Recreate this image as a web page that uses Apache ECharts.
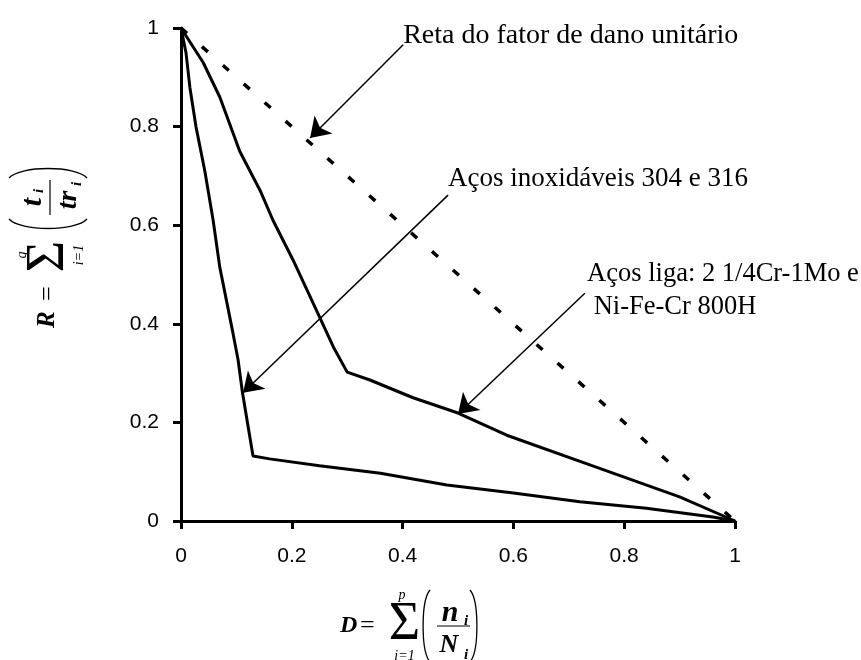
<!DOCTYPE html>
<html>
<head>
<meta charset="utf-8">
<script src="https://cdn.jsdelivr.net/npm/echarts@6/dist/echarts.min.js"></script>
<style>html,body{margin:0;padding:0;background:#fff}#c{width:861px;height:660px}</style>
</head>
<body>
<div id="c"></div>
<script>
// ---- data ----
const ticks = [0, 0.2, 0.4, 0.6, 0.8, 1];
const unitD = [0, 1];
const unitR = [1, 0];
const inoxD = [0, 0.009, 0.016, 0.027, 0.043, 0.058, 0.070, 0.094, 0.103, 0.111, 0.130, 0.16, 0.25, 0.36, 0.48, 0.60, 0.72, 0.84, 0.96, 1];
const inoxR = [1, 0.95, 0.88, 0.80, 0.71, 0.61, 0.515, 0.38, 0.327, 0.26, 0.132, 0.126, 0.112, 0.097, 0.073, 0.057, 0.039, 0.026, 0.008, 0];
const ligaD = [0, 0.04, 0.07, 0.106, 0.143, 0.166, 0.202, 0.25, 0.275, 0.30, 0.341, 0.419, 0.50, 0.588, 0.738, 0.90, 1];
const ligaR = [1, 0.93, 0.86, 0.75, 0.67, 0.61, 0.53, 0.414, 0.353, 0.302, 0.286, 0.25, 0.219, 0.174, 0.114, 0.049, 0];
const noteTexts = ['Reta do fator de dano unitário', 'Aços inoxidáveis 304 e 316', 'Aços liga: 2 1/4Cr-1Mo e\n Ni-Fe-Cr 800H'];
const noteSizes = [28, 27, 26.5];
const noteAt = [[0.401, 0.984], [0.482, 0.694], [0.733, 0.468]];
const arrowFrom = [[0.401, 0.966], [0.482, 0.661], [0.729, 0.462]];
const arrowTo = [[0.233, 0.777], [0.112, 0.26], [0.5, 0.217]];

const pairs = (xs, ys) => xs.map((x, i) => [x, ys[i]]);
const SERIF = '"Liberation Serif", "Times New Roman", serif';

function txt(x, y, s, font, align) {
  return {type: 'text', x: x, y: y, style: {text: s, font: font, fill: '#000',
    textAlign: align || 'center', textVerticalAlign: 'middle', align: align || 'center', verticalAlign: 'middle'}};
}
function paren(x, h, d, open) {
  const xe = open ? x + d : x;
  const xm = open ? x : x + d;
  return {type: 'bezierCurve', shape: {x1: xe, y1: -h, x2: xe, y2: h,
    cpx1: xm - (open ? 1 : -1) * d * 0.15, cpy1: -h * 0.7, cpx2: xm - (open ? 1 : -1) * d * 0.15, cpy2: h * 0.7},
    style: {stroke: '#000', fill: null, lineWidth: 1.3}};
}
const BI = (s) => 'italic bold ' + s + 'px ' + SERIF;
const RG = (s) => s + 'px ' + SERIF;

const xTitle = {type: 'group', x: 409, y: 626, children: [
  txt(-69, 0, 'D', BI(24), 'left'),
  txt(-49, 0, '=', RG(26), 'left'),
  txt(-4.5, -1, 'Σ', RG(54)),
  txt(-7, -31, 'p', 'italic ' + RG(14)),
  txt(-4.5, 30, 'i=1', 'italic ' + RG(14)),
  paren(13, 36, 8, true),
  {type: 'line', shape: {x1: 28, y1: 0, x2: 61, y2: 0}, style: {stroke: '#000', lineWidth: 1.2}},
  txt(41, -13, 'n', BI(30)),
  txt(57, -5, 'i', BI(15)),
  txt(40, 19, 'N', BI(26)),
  txt(57, 29, 'i', BI(15)),
  paren(61, 36, 8, false)
]};

const yTitle = {type: 'group', x: 48, y: 246, rotation: Math.PI / 2, children: [
  txt(-82, 0, 'R', BI(25), 'left'),
  txt(-55, 0, '=', RG(26), 'left'),
  txt(-10.5, 1, 'Σ', RG(54)),
  txt(-9, -26, 'q', 'italic ' + RG(14)),
  txt(-9, 31, 'i=1', 'italic ' + RG(14)),
  paren(16, 39, 11, true),
  {type: 'line', shape: {x1: 31, y1: 2, x2: 66, y2: 2}, style: {stroke: '#000', lineWidth: 1.2}},
  txt(44, -15, 't', BI(30)),
  txt(55, -9, 'i', BI(15)),
  txt(46, 21, 'tr', BI(28)),
  txt(62, 29, 'i', BI(15)),
  paren(68, 39, 11, false)
]};

const axisCommon = {
  type: 'value', min: 0, max: 1, interval: 0.2,
  axisLine: {show: true, onZero: false, lineStyle: {color: '#000', width: 3}},
  axisTick: {show: true, length: 8, lineStyle: {color: '#000', width: 3}},
  splitLine: {show: false},
  axisLabel: {color: '#000', fontSize: 21, fontFamily: '"Liberation Sans", Arial, sans-serif'}
};

const chart = echarts.init(document.getElementById('c'), null, {renderer: 'canvas'});
chart.setOption({
  animation: false,
  backgroundColor: '#fff',
  grid: {left: 181, right: 126, top: 28, bottom: 139, containLabel: false},
  xAxis: Object.assign({}, axisCommon, {axisLabel: Object.assign({}, axisCommon.axisLabel, {margin: 25})}),
  yAxis: Object.assign({}, axisCommon, {axisLabel: Object.assign({}, axisCommon.axisLabel, {margin: 22})}),
  graphic: [xTitle, yTitle],
  series: [
    {
      type: 'line', data: pairs(unitD, unitR), showSymbol: false, silent: true,
      lineStyle: {color: '#000', width: 3.5, type: [8, 20], cap: 'butt'},
      markLine: {
        silent: true, symbol: ['none', 'arrow'], symbolSize: 19,
        lineStyle: {color: '#000', width: 1.5, type: 'solid'},
        itemStyle: {color: '#000'},
        label: {show: false},
        data: arrowFrom.map((a, i) => [
          {coord: a, symbol: 'none'},
          {coord: arrowTo[i], symbol: 'arrow', symbolSize: 19, itemStyle: {color: '#000'}}
        ])
      },
      markPoint: {
        silent: true, symbol: 'circle', symbolSize: 0,
        label: {show: true, position: 'right', distance: 0, align: 'left', verticalAlign: 'middle',
          color: '#000', fontFamily: SERIF, fontSize: 27, lineHeight: 33, formatter: (p) => p.name},
        data: noteTexts.map((t, i) => ({name: t, coord: noteAt[i], label: {fontSize: noteSizes[i]}}))
      }
    },
    {type: 'line', data: pairs(inoxD, inoxR), showSymbol: false, silent: true, lineStyle: {color: '#000', width: 3}},
    {type: 'line', data: pairs(ligaD, ligaR), showSymbol: false, silent: true, lineStyle: {color: '#000', width: 3}}
  ]
});
</script>
</body>
</html>
